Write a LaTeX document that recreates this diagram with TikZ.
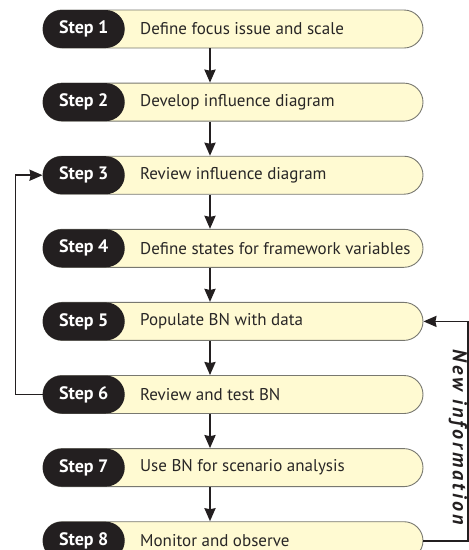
\documentclass[tikz,border=0pt]{standalone}
\usepackage{fontspec}
\setmainfont{PT Sans}
\newfontfamily\infofont[LetterSpace=15]{PT Sans}
\usetikzlibrary{arrows.meta, positioning, calc}
\definecolor{pillblack}{RGB}{35,31,32}
\definecolor{barfill}{RGB}{255,250,210}
\definecolor{barline}{RGB}{120,120,112}
\definecolor{steptxt}{RGB}{40,38,38}

\begin{document}
\begin{tikzpicture}[
    node distance=34.2pt and 15pt,
    bar/.style={
      rectangle, rounded corners=19pt,
      draw=barline, line width=0.9pt,
      fill=barfill,
      minimum width=380pt, minimum height=38pt, inner sep=0pt
    },
    pill/.style={
      rectangle, rounded corners=19pt,
      fill=pillblack, anchor=west,
      minimum width=82pt, minimum height=38pt, inner sep=0pt,
      text=white, font=\fontsize{18}{21}\selectfont\bfseries
    },
    steptext/.style={
      inner sep=0pt, text=steptxt,
      font=\fontsize{17}{20}\selectfont
    },
    infotext/.style={
      inner sep=0pt, text=pillblack, rotate=-90,
      font=\infofont\fontsize{20}{24}\selectfont\bfseries\itshape
    },
    flowarr/.style={
      -{Stealth[length=13pt, width=11pt, inset=1pt]}, line width=2.2pt, draw=pillblack
    },
    looparr/.style={
      -{Stealth[length=13pt, width=11pt, inset=1pt]}, line width=1.8pt, draw=pillblack
    }
  ]
  \useasboundingbox (0,0) rectangle (469pt,-550pt);

  % ---- Bars ----
  \node[bar] (b1) at (233pt,-29pt) {};
  \node[bar, below=of b1] (b2) {};
  \node[bar, below=of b2] (b3) {};
  \node[bar, below=of b3] (b4) {};
  \node[bar, below=of b4] (b5) {};
  \node[bar, below=of b5] (b6) {};
  \node[bar, below=of b6] (b7) {};
  \node[bar, below=of b7] (b8) {};

  % ---- Step labels and texts ----
  \node[pill] (s1) at (b1.west) {Step 1};
  \node[steptext, right=of s1] (t1) {Define focus issue and scale};
  \node[pill] (s2) at (b2.west) {Step 2};
  \node[steptext, right=of s2] (t2) {Develop influence diagram};
  \node[pill] (s3) at (b3.west) {Step 3};
  \node[steptext, right=of s3] (t3) {Review influence diagram};
  \node[pill] (s4) at (b4.west) {Step 4};
  \node[steptext, right=of s4] (t4) {Define states for framework variables};
  \node[pill] (s5) at (b5.west) {Step 5};
  \node[steptext, right=of s5] (t5) {Populate BN with data};
  \node[pill] (s6) at (b6.west) {Step 6};
  \node[steptext, right=of s6] (t6) {Review and test BN};
  \node[pill] (s7) at (b7.west) {Step 7};
  \node[steptext, right=of s7] (t7) {Use BN for scenario analysis};
  \node[pill] (s8) at (b8.west) {Step 8};
  \node[steptext, right=of s8] (t8) {Monitor and observe};

  % ---- Arrows between steps ----
  \foreach \a/\b in {b1/b2, b2/b3, b3/b4, b4/b5, b5/b6, b6/b7, b7/b8}{
    \draw[flowarr] ([xshift=-23pt]\a.south) -- ([xshift=-23pt]\b.north);
  }

  % ---- Review loop ----
  \draw[looparr] (s6.west) -- ++(-27pt,0) coordinate (l6) |- (s3.west);

  % ---- New information loop ----
  \draw[looparr] (b8.east) -- ++(44.5pt,0) coordinate (r8) |- (b5.east);
  \node[infotext] (newinfo)
    at ($(r8)!0.5!(r8 |- b5.east) + (-10pt,-6pt)$) {New information};

\end{tikzpicture}
\end{document}
